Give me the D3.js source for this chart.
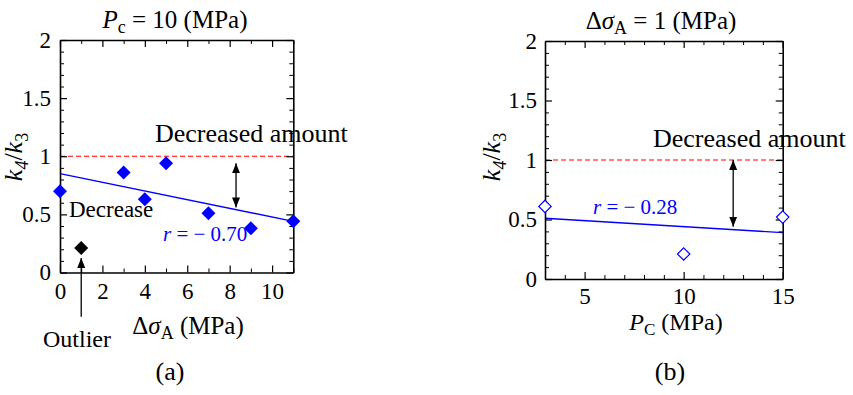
<!DOCTYPE html>
<html>
<head>
<meta charset="utf-8">
<script src="https://cdn.jsdelivr.net/npm/d3@7"></script>
<style>
  body { margin: 0; background: #fff; }
  text { font-family: "Liberation Serif", "Times New Roman", serif; }
</style>
</head>
<body>
<div id="chart"></div>
<script>
// panel (a): Pc = 10 MPa
const sigmaA = [0, 3, 4, 5, 7, 9, 11];
const ratioA = [0.70, 0.86, 0.63, 0.94, 0.51, 0.38, 0.44];
const outlierA = [{x: 1, y: 0.21}];
const fitA = [[0, 0.85], [11, 0.44]];
const arrowA = {x: 8.3, y1: 0.94, y2: 0.56};
const outlierArrow = {x: 1, y1: 0.125, y2: -0.38};

// panel (b): delta sigma = 1 MPa
const pc = [3, 10, 15];
const ratioB = [0.61, 0.21, 0.52];
const fitB = [[3, 0.51], [15, 0.39]];
const arrowB = {x: 12.5, y1: 1.0, y2: 0.44};

const yTicks = [0, 0.5, 1, 1.5, 2];
const xTicksA = [0, 2, 4, 6, 8, 10];
const xTicksB = [5, 10, 15];

const svg = d3.select("#chart").append("svg")
    .attr("width", 853)
    .attr("height", 395);

const defs = svg.append("defs");
defs.append("marker")
    .attr("id", "head")
    .attr("viewBox", "0 0 10 10")
    .attr("refX", 10).attr("refY", 5)
    .attr("markerWidth", 10).attr("markerHeight", 10)
    .attr("markerUnits", "userSpaceOnUse")
    .attr("orient", "auto-start-reverse")
    .append("path")
    .attr("d", "M0,1 L10,5 L0,9 Z")
    .attr("fill", "#000");

function diamond(r) {
    return `M0,${-r} L${r},0 L0,${r} L${-r},0 Z`;
}

function drawFrame(x, y, xMajor, xMinor, yPad, xPad) {
    let yMinor = d3.range(0, 2.001, 0.1).filter(v => Math.abs(v * 2 - Math.round(v * 2)) > 0.01);
    let [x0, x1] = x.range();
    let [y0, y1] = y.range();

    let axes = [
        {a: d3.axisLeft(y), t: `translate(${x0},0)`, major: yTicks, minor: yMinor, lab: true, pad: yPad},
        {a: d3.axisRight(y), t: `translate(${x1},0)`, major: yTicks, minor: yMinor, lab: false},
        {a: d3.axisBottom(x), t: `translate(0,${y0})`, major: xMajor, minor: xMinor, lab: true, pad: xPad},
        {a: d3.axisTop(x), t: `translate(0,${y1})`, major: xMajor, minor: xMinor, lab: false}
    ];

    axes.forEach(function(ax) {
        // minor ticks
        svg.append("g")
            .attr("transform", ax.t)
            .call(ax.a.tickValues(ax.minor).tickSize(-4).tickSizeOuter(0).tickFormat(""))
            .call(g => g.select(".domain").remove())
            .selectAll("line").attr("stroke-width", 1);

        let g = svg.append("g")
            .attr("transform", ax.t)
            .call(ax.a.tickValues(ax.major).tickSize(-7).tickSizeOuter(0)
                .tickPadding(ax.pad || 0)
                .tickFormat(ax.lab ? d3.format("") : ""));
        g.select(".domain").attr("stroke-width", 1.6);
        g.selectAll("line").attr("stroke-width", 1.2);
        g.selectAll("text")
            .attr("font-family", "Liberation Serif, Times New Roman, serif")
            .attr("font-size", 23)
            .attr("fill", "#000");
        g.attr("font-family", null).attr("font-size", null);
    });
}

function yLabel(cx, cy) {
    let t = svg.append("text")
        .attr("transform", `translate(${cx},${cy}) rotate(-90)`)
        .attr("text-anchor", "middle")
        .attr("font-size", 26);
    t.append("tspan").attr("font-style", "italic").text("k");
    t.append("tspan").attr("font-style", "italic").attr("font-size", 18).attr("dy", 6).text("4");
    t.append("tspan").attr("dy", -6).text("/");
    t.append("tspan").attr("font-style", "italic").text("k");
    t.append("tspan").attr("font-size", 18).attr("dy", 6).text("3");
}

function addText(x, y, str, opts) {
    opts = opts || {};
    return svg.append("text")
        .attr("x", x).attr("y", y)
        .attr("text-anchor", opts.anchor || "start")
        .attr("font-size", opts.size || 26)
        .attr("fill", opts.fill || "#000")
        .text(str);
}

// ---------- panel (a)
let xA = d3.scaleLinear().domain([0, 11]).range([60, 293.3]);
let yA = d3.scaleLinear().domain([0, 2]).range([272.5, 40]);

// reference line at 1
svg.append("line")
    .attr("x1", xA(0)).attr("x2", xA(11))
    .attr("y1", yA(1)).attr("y2", yA(1))
    .attr("stroke", "#ff0000").attr("stroke-width", 1.2)
    .attr("stroke-dasharray", "5,3");

svg.append("path")
    .datum(fitA)
    .attr("fill", "none")
    .attr("stroke", "#0000ff")
    .attr("stroke-width", 1.4)
    .attr("d", d3.line().x(d => xA(d[0])).y(d => yA(d[1])));

drawFrame(xA, yA, xTicksA, d3.range(1, 12, 2), 9, 10);

svg.selectAll(".ptA")
    .data(sigmaA.map((v, i) => ({x: v, y: ratioA[i]})))
    .join("path")
    .attr("class", "ptA")
    .attr("transform", d => `translate(${xA(d.x)},${yA(d.y)})`)
    .attr("d", diamond(7))
    .attr("fill", "#0000ff");

svg.selectAll(".outA")
    .data(outlierA)
    .join("path")
    .attr("class", "outA")
    .attr("transform", d => `translate(${xA(d.x)},${yA(d.y)})`)
    .attr("d", diamond(7))
    .attr("fill", "#000");

// double arrow (decreased amount)
svg.append("line")
    .attr("x1", xA(arrowA.x)).attr("x2", xA(arrowA.x))
    .attr("y1", yA(arrowA.y1)).attr("y2", yA(arrowA.y2))
    .attr("stroke", "#000").attr("stroke-width", 1.3)
    .attr("marker-start", "url(#head)")
    .attr("marker-end", "url(#head)");

// outlier arrow
svg.append("line")
    .attr("x1", xA(outlierArrow.x)).attr("x2", xA(outlierArrow.x))
    .attr("y1", yA(outlierArrow.y2)).attr("y2", yA(outlierArrow.y1))
    .attr("stroke", "#000").attr("stroke-width", 1.3)
    .attr("marker-end", "url(#head)");

// title (a)
let tA = svg.append("text").attr("x", 175).attr("y", 28)
    .attr("text-anchor", "middle").attr("font-size", 25);
tA.append("tspan").attr("font-style", "italic").text("P");
tA.append("tspan").attr("font-size", 18).attr("dy", 5).text("c");
tA.append("tspan").attr("dy", -5).text(" = 10 (MPa)");

yLabel(22, 157);

let xlA = svg.append("text").attr("x", 188).attr("y", 334)
    .attr("text-anchor", "middle").attr("font-size", 25);
xlA.append("tspan").text("Δ");
xlA.append("tspan").attr("font-style", "italic").text("σ");
xlA.append("tspan").attr("font-size", 18).attr("dy", 5).text("A");
xlA.append("tspan").attr("dy", -5).text(" (MPa)");

addText(155, 142, "Decreased amount", {size: 26});
addText(69, 217, "Decrease", {size: 23});
addText(43, 347, "Outlier", {size: 24});
let rA = svg.append("text").attr("x", 163).attr("y", 241)
    .attr("font-size", 21).attr("fill", "#0000ff");
rA.append("tspan").attr("font-style", "italic").text("r");
rA.append("tspan").text(" = − 0.70");
addText(170, 380, "(a)", {size: 26, anchor: "middle"});

// ---------- panel (b)
let xB = d3.scaleLinear().domain([3, 15]).range([545, 782.7]);
let yB = d3.scaleLinear().domain([0, 2]).range([279, 41]);

svg.append("line")
    .attr("x1", xB(3)).attr("x2", xB(15))
    .attr("y1", yB(1)).attr("y2", yB(1))
    .attr("stroke", "#ff0000").attr("stroke-width", 1.2)
    .attr("stroke-dasharray", "5,3");

svg.append("path")
    .datum(fitB)
    .attr("fill", "none")
    .attr("stroke", "#0000ff")
    .attr("stroke-width", 1.4)
    .attr("d", d3.line().x(d => xB(d[0])).y(d => yB(d[1])));

drawFrame(xB, yB, xTicksB, [4, 6, 7, 8, 9, 11, 12, 13, 14], 8, 9);

svg.selectAll(".ptB")
    .data(pc.map((v, i) => ({x: v, y: ratioB[i]})))
    .join("path")
    .attr("class", "ptB")
    .attr("transform", d => `translate(${xB(d.x)},${yB(d.y)})`)
    .attr("d", diamond(6.2))
    .attr("fill", "#fff")
    .attr("stroke", "#0000ff")
    .attr("stroke-width", 1.2);

svg.append("line")
    .attr("x1", xB(arrowB.x)).attr("x2", xB(arrowB.x))
    .attr("y1", yB(arrowB.y1)).attr("y2", yB(arrowB.y2))
    .attr("stroke", "#000").attr("stroke-width", 1.3)
    .attr("marker-start", "url(#head)")
    .attr("marker-end", "url(#head)");

let tB = svg.append("text").attr("x", 661).attr("y", 29)
    .attr("text-anchor", "middle").attr("font-size", 25);
tB.append("tspan").text("Δ");
tB.append("tspan").attr("font-style", "italic").text("σ");
tB.append("tspan").attr("font-size", 18).attr("dy", 5).text("A");
tB.append("tspan").attr("dy", -5).text(" = 1 (MPa)");

yLabel(500, 157);

let xlB = svg.append("text").attr("x", 676).attr("y", 330)
    .attr("text-anchor", "middle").attr("font-size", 24);
xlB.append("tspan").attr("font-style", "italic").text("P");
xlB.append("tspan").attr("font-size", 17).attr("dy", 5).text("C");
xlB.append("tspan").attr("dy", -5).text(" (MPa)");

addText(653, 147, "Decreased amount", {size: 26});
let rB = svg.append("text").attr("x", 593).attr("y", 214)
    .attr("font-size", 21).attr("fill", "#0000ff");
rB.append("tspan").attr("font-style", "italic").text("r");
rB.append("tspan").text(" = − 0.28");
addText(670, 380, "(b)", {size: 26, anchor: "middle"});
</script>
</body>
</html>
